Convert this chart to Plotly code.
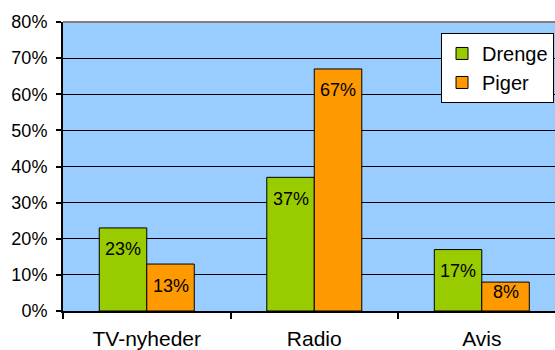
import plotly.graph_objects as go

categories = ["TV-nyheder", "Radio", "Avis"]
drenge = [23, 37, 17]
piger = [13, 67, 8]
series_names = ["Drenge", "Piger"]
y_ticks = [0, 10, 20, 30, 40, 50, 60, 70, 80]

GREEN = "#99CC00"
ORANGE = "#FF9900"
FONT = "Liberation Sans, Arial, sans-serif"

PLOT_H = 289.0  # px height of plot area
PX_PER_UNIT = PLOT_H / 80.0
BAR_PX = 47.5

fig = go.Figure()
series = [(series_names[0], drenge, GREEN, -1), (series_names[1], piger, ORANGE, 1)]
for name, vals, col, side in series:
    fig.add_trace(go.Bar(
        name=name, x=categories, y=vals,
        marker=dict(color=col, line=dict(color="black", width=1)),
    ))
    for c, v in zip(categories, vals):
        bar_px = v * PX_PER_UNIT
        off = min(14, bar_px - 27)
        fig.add_annotation(
            x=c, y=v, text=f"{v}%", showarrow=False,
            xanchor="center", yanchor="top",
            xshift=side * BAR_PX / 2, yshift=-(off - 4.5),
            font=dict(family=FONT, size=18, color="black"),
        )

fig.update_layout(
    width=555, height=350,
    margin=dict(l=63, r=0, t=22, b=39),
    paper_bgcolor="white", plot_bgcolor="#99CCFF",
    barmode="group", bargap=0.433, bargroupgap=0,
    font=dict(family=FONT, size=18, color="black"),
    showlegend=True,
    legend=dict(x=0.998, y=0.962, xanchor="right", yanchor="top",
                bgcolor="white", bordercolor="black", borderwidth=1,
                font=dict(size=20), itemwidth=30, tracegroupgap=0),
)
fig.update_xaxes(
    range=[-0.5, 2.437], autorange=False, showline=True, linecolor="black", linewidth=2,
    ticks="outside", tickson="boundaries", ticklen=6, tickwidth=2, tickcolor="black",
    showgrid=False, tickfont=dict(size=21), ticklabelstandoff=8,
)
fig.update_yaxes(
    range=[0, 80], tickvals=y_ticks, ticktext=[f"{v}%" for v in y_ticks],
    showline=True, linecolor="black", linewidth=2,
    ticks="outside", ticklen=5, tickwidth=2, tickcolor="black",
    showgrid=True, gridcolor="black", gridwidth=1, zeroline=False,
    tickfont=dict(size=18), ticklabelstandoff=5,
)
fig.add_shape(type="line", xref="paper", yref="paper", x0=0, x1=1, y0=1, y1=1,
              line=dict(color="#808080", width=2))
fig.write_html("out.html", config={"displayModeBar": False},
               post_script="document.body.style.margin='0';")
